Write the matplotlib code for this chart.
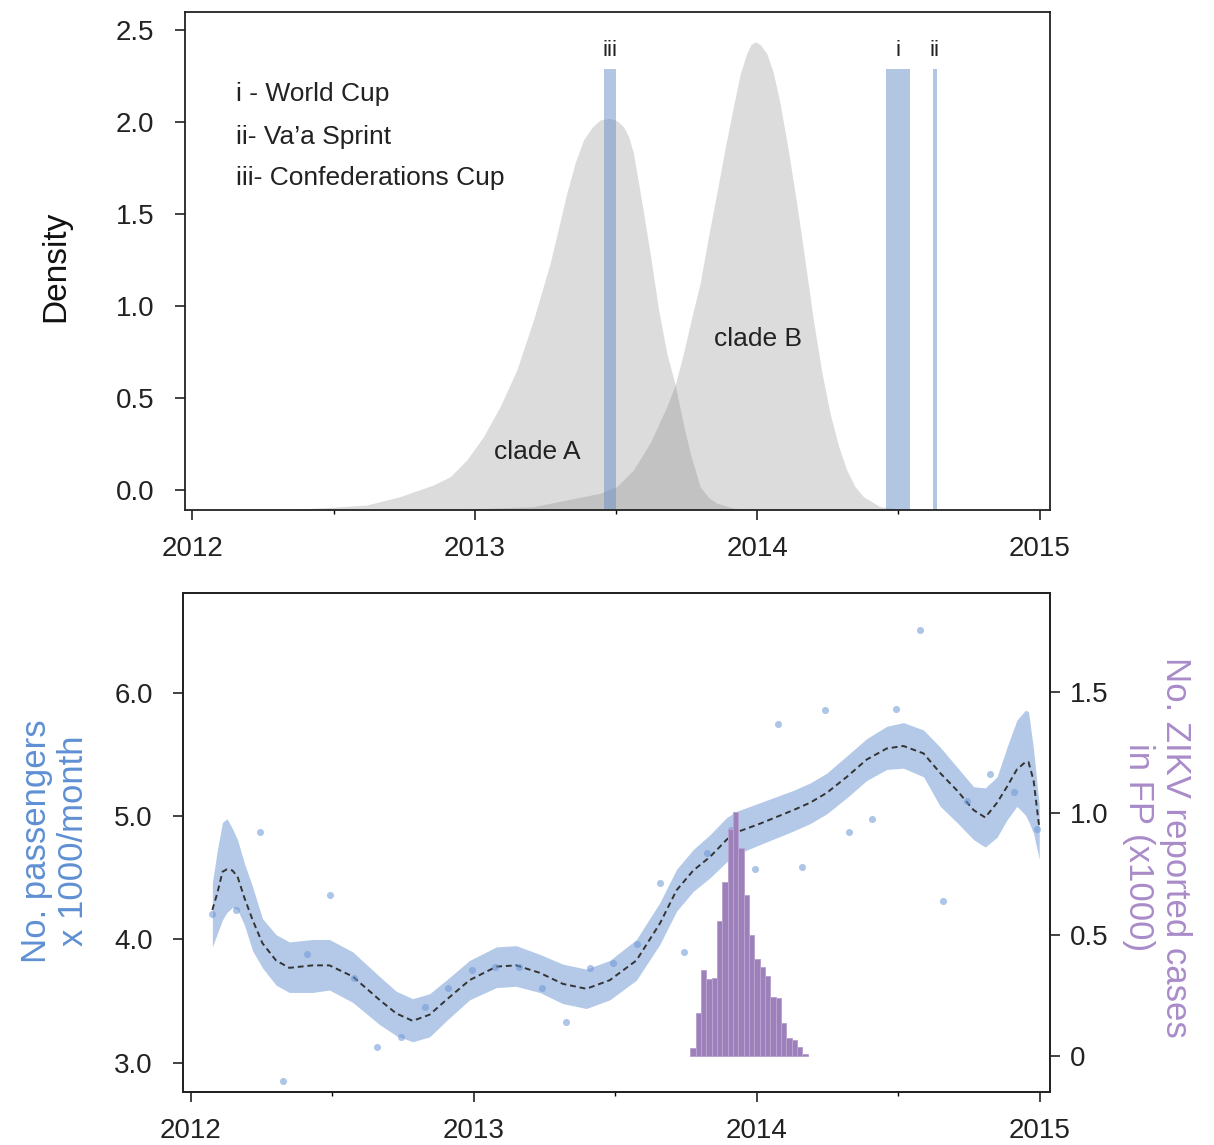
import numpy as np
import matplotlib
matplotlib.use("Agg")
import matplotlib.pyplot as plt
from matplotlib.ticker import MultipleLocator, FixedLocator, FuncFormatter

plt.rcParams['font.family'] = ['Liberation Sans', 'DejaVu Sans']

# ---------------- Top panel data: posterior densities of tMRCA ----------------
cladeA_x = [2012.382, 2012.500, 2012.618, 2012.736, 2012.854, 2012.913, 2012.972,
            2013.031, 2013.090, 2013.149, 2013.208, 2013.267, 2013.326, 2013.356,
            2013.385, 2013.415, 2013.444, 2013.480, 2013.505, 2013.527, 2013.545,
            2013.562, 2013.592, 2013.621, 2013.651, 2013.680, 2013.710, 2013.737,
            2013.763, 2013.798, 2013.827, 2013.857, 2013.916, 2013.975]
cladeA_d = [-0.103, -0.094, -0.082, -0.036, 0.027, 0.072, 0.163,
            0.290, 0.453, 0.652, 0.924, 1.232, 1.613, 1.780,
            1.902, 1.970, 2.011, 2.020, 2.005, 1.974, 1.920,
            1.830, 1.560, 1.286, 0.980, 0.743, 0.571, 0.370,
            0.199, 0.018, -0.040, -0.072, -0.099, -0.103]

cladeB_x = [2012.984, 2013.208, 2013.444, 2013.503, 2013.562, 2013.621, 2013.680,
            2013.710, 2013.739, 2013.769, 2013.798, 2013.827, 2013.857, 2013.887,
            2013.916, 2013.940, 2013.963, 2013.978, 2013.993, 2014.011, 2014.034,
            2014.057, 2014.081, 2014.110, 2014.140, 2014.170, 2014.199, 2014.229,
            2014.258, 2014.288, 2014.317, 2014.346, 2014.376, 2014.435, 2014.506]
cladeB_d = [-0.103, -0.091, -0.018, 0.018, 0.109, 0.255, 0.453,
            0.571, 0.743, 0.940, 1.123, 1.370, 1.613, 1.860,
            2.083, 2.260, 2.373, 2.420, 2.436, 2.420, 2.373,
            2.270, 2.102, 1.850, 1.558, 1.240, 0.924, 0.640,
            0.417, 0.240, 0.109, 0.020, -0.036, -0.091, -0.103]

event_labels = ["i", "ii", "iii"]
event_names = ["i - World Cup", "ii- Va\u2019a Sprint", "iii- Confederations Cup"]
event_start = [2014.457, 2014.621, 2013.456]
event_end = [2014.542, 2014.636, 2013.501]

# ---------------- Bottom panel data ----------------
pass_x0 = 2012.076
passengers = [4.21, 4.24, 4.87, 2.85, 3.88, 4.36, 3.69, 3.13, 3.21, 3.45, 3.61, 3.75,
              3.78, 3.78, 3.61, 3.33, 3.77, 3.81, 3.96, 4.46, 3.90, 4.70, 4.89, 4.57,
              5.75, 4.59, 5.86, 4.87, 4.98, 5.87, 6.51, 4.31, 5.12, 5.34, 5.20, 4.90]

smooth_x = [2012.076, 2012.094, 2012.112, 2012.128, 2012.147, 2012.165, 2012.189,
            2012.218, 2012.253, 2012.301, 2012.348, 2012.430, 2012.490, 2012.572,
            2012.667, 2012.726, 2012.784, 2012.844, 2012.903, 2012.985, 2013.080,
            2013.150, 2013.233, 2013.315, 2013.398, 2013.481, 2013.575, 2013.658,
            2013.717, 2013.776, 2013.835, 2013.894, 2013.929, 2014.012, 2014.130,
            2014.189, 2014.248, 2014.319, 2014.389, 2014.460, 2014.519, 2014.590,
            2014.649, 2014.708, 2014.767, 2014.808, 2014.850, 2014.885, 2014.920,
            2014.950, 2014.961, 2014.979, 2014.999]
smooth_mean = [4.24, 4.38, 4.55, 4.57, 4.56, 4.51, 4.34,
               4.16, 3.97, 3.83, 3.77, 3.79, 3.79, 3.70,
               3.51, 3.40, 3.34, 3.39, 3.51, 3.67, 3.78,
               3.79, 3.73, 3.64, 3.60, 3.67, 3.83, 4.13,
               4.40, 4.56, 4.67, 4.81, 4.87, 4.94, 5.05,
               5.11, 5.19, 5.32, 5.46, 5.55, 5.57, 5.51,
               5.35, 5.21, 5.05, 4.99, 5.11, 5.24, 5.38,
               5.44, 5.44, 5.29, 4.91]
smooth_hi = [4.46, 4.73, 4.95, 4.98, 4.90, 4.81, 4.62,
             4.43, 4.17, 4.04, 3.98, 4.00, 4.00, 3.90,
             3.70, 3.58, 3.52, 3.56, 3.67, 3.83, 3.94,
             3.95, 3.88, 3.80, 3.76, 3.83, 4.00, 4.30,
             4.57, 4.73, 4.85, 4.99, 5.04, 5.11, 5.21,
             5.27, 5.35, 5.49, 5.63, 5.73, 5.76, 5.70,
             5.56, 5.40, 5.24, 5.23, 5.32, 5.56, 5.78,
             5.86, 5.85, 5.54, 5.09]
smooth_lo = [3.94, 4.05, 4.16, 4.22, 4.26, 4.24, 4.12,
             3.91, 3.77, 3.63, 3.57, 3.57, 3.59, 3.49,
             3.31, 3.22, 3.17, 3.21, 3.34, 3.51, 3.61,
             3.62, 3.57, 3.48, 3.44, 3.51, 3.67, 3.96,
             4.23, 4.39, 4.50, 4.63, 4.69, 4.77, 4.88,
             4.94, 5.02, 5.15, 5.29, 5.38, 5.39, 5.32,
             5.08, 4.95, 4.81, 4.75, 4.83, 4.97, 5.08,
             5.01, 4.96, 4.86, 4.65]

hist_start = 2013.766
hist_width = 0.01886
zikv_cases = [0.035, 0.177, 0.354, 0.317, 0.321, 0.556, 0.718, 0.935, 1.007, 0.857, 0.663,
              0.497, 0.400, 0.365, 0.330, 0.244, 0.238, 0.136, 0.074, 0.068, 0.039, 0.010]

year_ticks = [2012, 2013, 2014, 2015]

# ---------------- Figure ----------------
fig = plt.figure(figsize=(12.14, 11.45), dpi=100)
ax1 = fig.add_axes([0.15239, 0.55459, 0.71252, 0.43467])
ax2 = fig.add_axes([0.15115, 0.04655, 0.71376, 0.43528])

XLIM = (2011.974, 2015.037)
TICKCOL = '#222222'

def style_axis(ax):
    for s in ax.spines.values():
        s.set_linewidth(1.3)
        s.set_color('#222222')
    ax.set_xlim(*XLIM)
    ax.xaxis.set_major_locator(FixedLocator(year_ticks))
    ax.xaxis.set_minor_locator(MultipleLocator(0.5))
    ax.tick_params(axis='x', which='major', length=7, width=1.2, pad=12,
                   labelsize=20, colors=TICKCOL, direction='out')
    ax.tick_params(axis='x', which='minor', length=3, width=1.0, direction='out')
    ax.tick_params(axis='y', which='major', length=7, width=1.2, pad=15,
                   labelsize=20, colors=TICKCOL, direction='out')

# ---- top ----
Y1 = (-0.109, 2.596)
style_axis(ax1)
ax1.set_ylim(*Y1)
ax1.fill_between(cladeA_x, cladeA_d, Y1[0], color='#7f7f7f', alpha=0.27, linewidth=0)
ax1.fill_between(cladeB_x, cladeB_d, Y1[0], color='#7f7f7f', alpha=0.27, linewidth=0)
bar_top = 2.29
for lab, s, e in zip(event_labels, event_start, event_end):
    ax1.bar(s, bar_top - Y1[0], width=e - s, bottom=Y1[0], align='edge',
            color='#678fc7', alpha=0.5, linewidth=0)
    ax1.text((s + e) / 2, 2.39, lab, ha='center', va='center', fontsize=16, color='#222222')
for k, name in enumerate(event_names):
    ax1.text(2012.156, [2.152, 1.918, 1.696][k], name, ha='left', va='center',
             fontsize=19, color='#222222')
ax1.text(2013.223, 0.204, "clade A", ha='center', va='center', fontsize=19, color='#222222')
ax1.text(2014.004, 0.821, "clade B", ha='center', va='center', fontsize=19, color='#222222')
ax1.set_yticks([0.0, 0.5, 1.0, 1.5, 2.0, 2.5])
ax1.yaxis.set_major_formatter(FuncFormatter(lambda v, p: f"{v:.1f}"))
fig.text(0.0461, 0.7677, "Density", rotation=90, ha='center', va='center', fontsize=24, color='#111111')

# ---- bottom ----
Y2 = (2.765, 6.809)
style_axis(ax2)
ax2.set_ylim(*Y2)
ax2.set_yticks([3.0, 4.0, 5.0, 6.0])
ax2.yaxis.set_major_formatter(FuncFormatter(lambda v, p: f"{v:.1f}"))
ax2.fill_between(smooth_x, smooth_lo, smooth_hi, color='#6a95d2', alpha=0.5, linewidth=0)
ax2.plot(smooth_x, smooth_mean, color='#333333', linewidth=1.4, dashes=(3, 2))
px = pass_x0 + np.arange(len(passengers)) / 12.0
ax2.scatter(px, passengers, s=26, color='#6b96d4', alpha=0.55, linewidths=0, zorder=3)

ax3 = ax2.twinx()
ax3.set_ylim(-0.147, 1.906)
ax3.set_yticks([0, 0.5, 1.0, 1.5])
ax3.yaxis.set_major_formatter(FuncFormatter(lambda v, p: "0" if v == 0 else f"{v:.1f}"))
ax3.tick_params(axis='y', length=7, width=1.2, pad=7, labelsize=20, colors=TICKCOL, direction='out')
for s in ax3.spines.values():
    s.set_linewidth(1.3)
    s.set_color('#222222')
hx = hist_start + hist_width * np.arange(len(zikv_cases))
ax3.bar(hx, zikv_cases, width=hist_width, align='edge', color='#9d7fb9',
        edgecolor='#b9a3d0', linewidth=0.7)

fig.text(0.0453, 0.2655, "No. passengers\nx 1000/month", rotation=90, ha='center', va='center',
         multialignment='center', fontsize=25, color='#5f90d3', linespacing=1.15)
fig.text(0.9530, 0.2603, "No. ZIKV reported cases\nin FP (x1000)", rotation=270, ha='center',
         va='center', multialignment='center', fontsize=25, color='#a98bc9', linespacing=1.15)

fig.savefig("out.png", dpi=100)
